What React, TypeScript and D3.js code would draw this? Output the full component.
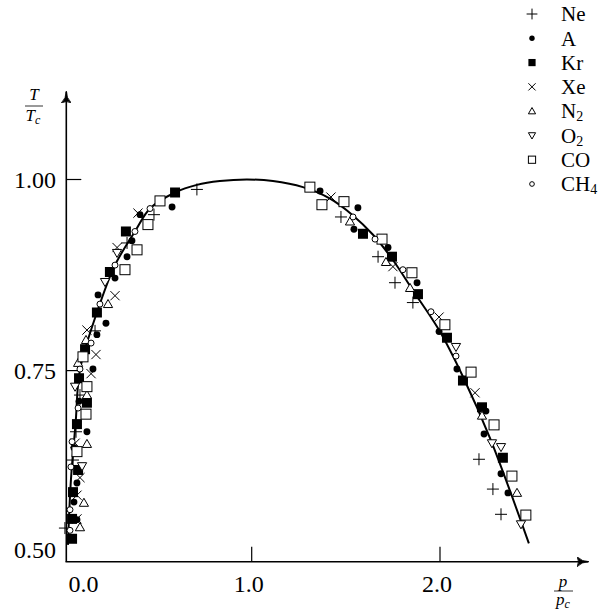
import React from "react";
import * as d3 from "d3";

// values: [p/pc, T/Tc]
const neon = [[0.709, 0.987], [0.481, 0.954], [0.338, 0.917], [0.168, 0.802], [0.088, 0.718], [0.067, 0.670], [0.051, 0.633], [0.008, 0.544],
  [1.474, 0.951], [1.671, 0.899], [1.761, 0.865], [1.856, 0.839], [2.207, 0.634], [2.281, 0.595], [2.324, 0.562]];
const argon = [[0.577, 0.964], [0.407, 0.954], [0.364, 0.920], [0.338, 0.899], [0.274, 0.871], [0.184, 0.849], [0.226, 0.812], [0.178, 0.797],
  [0.157, 0.752], [0.083, 0.710], [0.125, 0.670], [0.056, 0.649], [0.072, 0.603], [0.056, 0.578], [0.072, 0.555],
  [1.363, 0.985], [1.564, 0.963], [1.543, 0.935], [1.724, 0.911], [1.878, 0.865], [1.995, 0.801], [2.090, 0.752], [2.244, 0.697],
  [2.234, 0.667], [2.324, 0.615], [2.361, 0.590]];
const krypton = [[0.593, 0.983], [0.332, 0.932], [0.247, 0.879], [0.178, 0.826], [0.115, 0.778], [0.083, 0.740], [0.125, 0.708], [0.072, 0.680],
  [0.078, 0.620], [0.051, 0.591], [0.046, 0.556], [0.046, 0.530],
  [1.591, 0.929], [1.745, 0.899], [1.883, 0.850], [2.037, 0.793], [2.122, 0.737], [2.223, 0.702], [2.334, 0.636]];
const xenon = [[0.396, 0.956], [0.285, 0.911], [0.274, 0.848], [0.125, 0.803], [0.173, 0.771], [0.147, 0.746], [0.062, 0.655], [0.088, 0.610],
  [0.072, 0.587], [0.072, 0.556],
  [1.421, 0.977], [1.750, 0.886], [1.995, 0.820], [2.186, 0.721]];
const nitrogen = [[0.237, 0.837], [0.120, 0.790], [0.078, 0.760], [0.125, 0.718], [0.125, 0.654], [0.109, 0.577], [0.088, 0.545],
  [1.522, 0.945], [1.713, 0.892], [1.841, 0.858], [2.223, 0.691], [2.409, 0.590]];
const oxygen = [[0.285, 0.904], [0.221, 0.866], [0.062, 0.729], [0.099, 0.625],
  [2.085, 0.781], [2.276, 0.655], [2.324, 0.650], [2.430, 0.549]];
const carbonMonoxide = [[0.513, 0.972], [0.449, 0.941], [0.391, 0.908], [0.327, 0.882], [0.104, 0.768], [0.125, 0.729], [0.120, 0.693], [0.072, 0.644],
  [1.309, 0.990], [1.373, 0.967], [1.490, 0.971], [1.692, 0.922], [1.851, 0.878], [2.026, 0.810], [2.165, 0.748], [2.287, 0.679],
  [2.382, 0.612], [2.456, 0.561]];
const methane = [[0.460, 0.962], [0.380, 0.932], [0.274, 0.888], [0.194, 0.837], [0.147, 0.786], [0.088, 0.752], [0.078, 0.701], [0.046, 0.657],
  [0.040, 0.624], [0.035, 0.568], [0.035, 0.541],
  [1.538, 0.951], [1.655, 0.922], [1.803, 0.882], [1.952, 0.827], [2.085, 0.769]];

// the drawn coexistence curve
const curve = [[0.024, 0.522], [0.040, 0.607], [0.065, 0.682], [0.088, 0.751], [0.178, 0.826], [0.274, 0.888],
  [0.380, 0.932], [0.460, 0.962], [0.593, 0.983], [0.709, 0.993], [0.831, 0.998], [0.975, 1.0], [1.113, 0.998], [1.272, 0.990],
  [1.416, 0.975], [1.538, 0.953], [1.643, 0.928], [1.749, 0.895], [1.856, 0.855], [1.995, 0.803], [2.122, 0.742], [2.265, 0.662],
  [2.472, 0.524]];

const xTicks = [0, 1, 2];
const xTickLabels = ["0.0", "1.0", "2.0"];
const yTicks = [1.0, 0.75, 0.5];
const yTickLabels = ["1.00", "0.75", "0.50"];

const series = [
  { name: "Ne", sub: "", kind: "plus", data: neon },
  { name: "A", sub: "", kind: "dot", data: argon },
  { name: "Kr", sub: "", kind: "square", data: krypton },
  { name: "Xe", sub: "", kind: "cross", data: xenon },
  { name: "N", sub: "2", kind: "up", data: nitrogen },
  { name: "O", sub: "2", kind: "down", data: oxygen },
  { name: "CO", sub: "", kind: "box", data: carbonMonoxide },
  { name: "CH", sub: "4", kind: "ring", data: methane },
];

const FONT = "'Liberation Serif', 'DejaVu Serif', serif";

function Marker({ kind, cx, cy, s }: { kind: string; cx: number; cy: number; s: number }) {
  const t = `translate(${cx},${cy})`;
  switch (kind) {
    case "plus":
      return <path transform={t} d={`M${-s * 1.2},0H${s * 1.2}M0,${-s * 1.2}V${s * 1.2}`} stroke="#000" strokeWidth={1} fill="none" />;
    case "cross":
      return <path transform={t} d={`M${-s},${-s}L${s},${s}M${-s},${s}L${s},${-s}`} stroke="#000" strokeWidth={1} fill="none" />;
    case "dot":
      return <circle cx={cx} cy={cy} r={s * 0.75} fill="#000" />;
    case "ring":
      return <circle cx={cx} cy={cy} r={s * 0.65} fill="#fff" stroke="#000" strokeWidth={1} />;
    case "square":
      return <rect x={cx - s} y={cy - s} width={2 * s} height={2 * s} fill="#000" />;
    case "box":
      return <rect x={cx - s} y={cy - s} width={2 * s} height={2 * s} fill="#fff" stroke="#000" strokeWidth={1} />;
    case "up":
      return <path transform={t} d={`M0,${-s}L${s},${s * 0.75}L${-s},${s * 0.75}Z`} fill="#fff" stroke="#000" strokeWidth={1} />;
    case "down":
      return <path transform={t} d={`M0,${s}L${s},${-s * 0.75}L${-s},${-s * 0.75}Z`} fill="#fff" stroke="#000" strokeWidth={1} />;
  }
  return null;
}

export default function App() {
  const width = 616, height = 612;
  const x = d3.scaleLinear().domain([0, 2]).range([63.4, 440]);
  const y = d3.scaleLinear().domain([0.5, 1.0]).range([561.7, 179.5]);
  const axisX = 66.3;
  const axisY = y(0.5);

  const line = d3.line<number[]>()
    .x(d => x(d[0]))
    .y(d => y(d[1]))
    .curve(d3.curveCatmullRom.alpha(0.5));

  const legendY = d3.scalePoint<number>().domain(d3.range(series.length)).range([14, 184]);

  return (
    <svg width={width} height={height} style={{ position: "absolute", left: 0, top: 0, background: "#fff", fontFamily: FONT }}>
      <defs>
        <marker id="arr" viewBox="0 0 12 10" refX="11" refY="5" markerWidth="12" markerHeight="10"
          markerUnits="userSpaceOnUse" orient="auto">
          <path d="M0,0 Q5,5 12,5 Q5,5 0,10 Q3,5 0,0 Z" fill="#000" stroke="#000" strokeWidth={0.8} />
        </marker>
      </defs>

      {/* axes */}
      <line x1={axisX} y1={axisY} x2={axisX} y2={92} stroke="#000" strokeWidth={1.6} markerEnd="url(#arr)" />
      <line x1={axisX - 0.8} y1={axisY} x2={588} y2={axisY} stroke="#000" strokeWidth={1.6} markerEnd="url(#arr)" />

      {yTicks.map((v, i) => (
        <g key={"y" + i}>
          {v > 0.5 && <line x1={axisX} x2={axisX + 15} y1={y(v)} y2={y(v)} stroke="#000" strokeWidth={1.2} />}
          <text x={56} y={v > 0.5 ? y(v) : y(v) - 12} dy="0.35em" textAnchor="end" fontSize={24}>{yTickLabels[i]}</text>
        </g>
      ))}
      {xTicks.map((v, i) => (
        <g key={"x" + i}>
          {v > 0 && <line x1={x(v)} x2={x(v)} y1={axisY} y2={axisY - 15} stroke="#000" strokeWidth={1.2} />}
          <text x={v > 0 ? x(v) - 3 : x(v) + 20} y={592} textAnchor="middle" fontSize={24}>{xTickLabels[i]}</text>
        </g>
      ))}

      {/* axis titles as fractions */}
      <g fontStyle="italic" fontSize={17} textAnchor="middle">
        <text x={34} y={100}>T</text>
        <line x1={25} x2={43} y1={106} y2={106} stroke="#000" strokeWidth={0.8} />
        <text x={33} y={121}>T<tspan fontSize={12} dy={3}>c</tspan></text>

        <text x={563} y={587}>p</text>
        <line x1={554} x2={573} y1={591} y2={591} stroke="#000" strokeWidth={0.8} />
        <text x={563} y={605}>p<tspan fontSize={12} dy={3}>c</tspan></text>
      </g>

      {/* curve */}
      <path d={line(curve) || ""} fill="none" stroke="#000" strokeWidth={2} />

      {/* points */}
      {series.map(s => (
        <g key={s.name + s.sub}>
          {s.data.map((d, j) => (
            <Marker key={j} kind={s.kind} cx={x(d[0])} cy={y(d[1])} s={s.kind === "plus" ? 5 : s.kind === "square" || s.kind === "box" ? 5 : 4.6} />
          ))}
        </g>
      ))}

      {/* legend */}
      {series.map((s, i) => (
        <g key={"lg" + i}>
          <Marker kind={s.kind} cx={532} cy={legendY(i) as number} s={s.kind === "plus" ? 4.5 : 3.6} />
          <text x={561} y={legendY(i) as number} dy="0.35em" fontSize={21}>
            {s.name}{s.sub && <tspan fontSize={14} dy={3}>{s.sub}</tspan>}
          </text>
        </g>
      ))}
    </svg>
  );
}
